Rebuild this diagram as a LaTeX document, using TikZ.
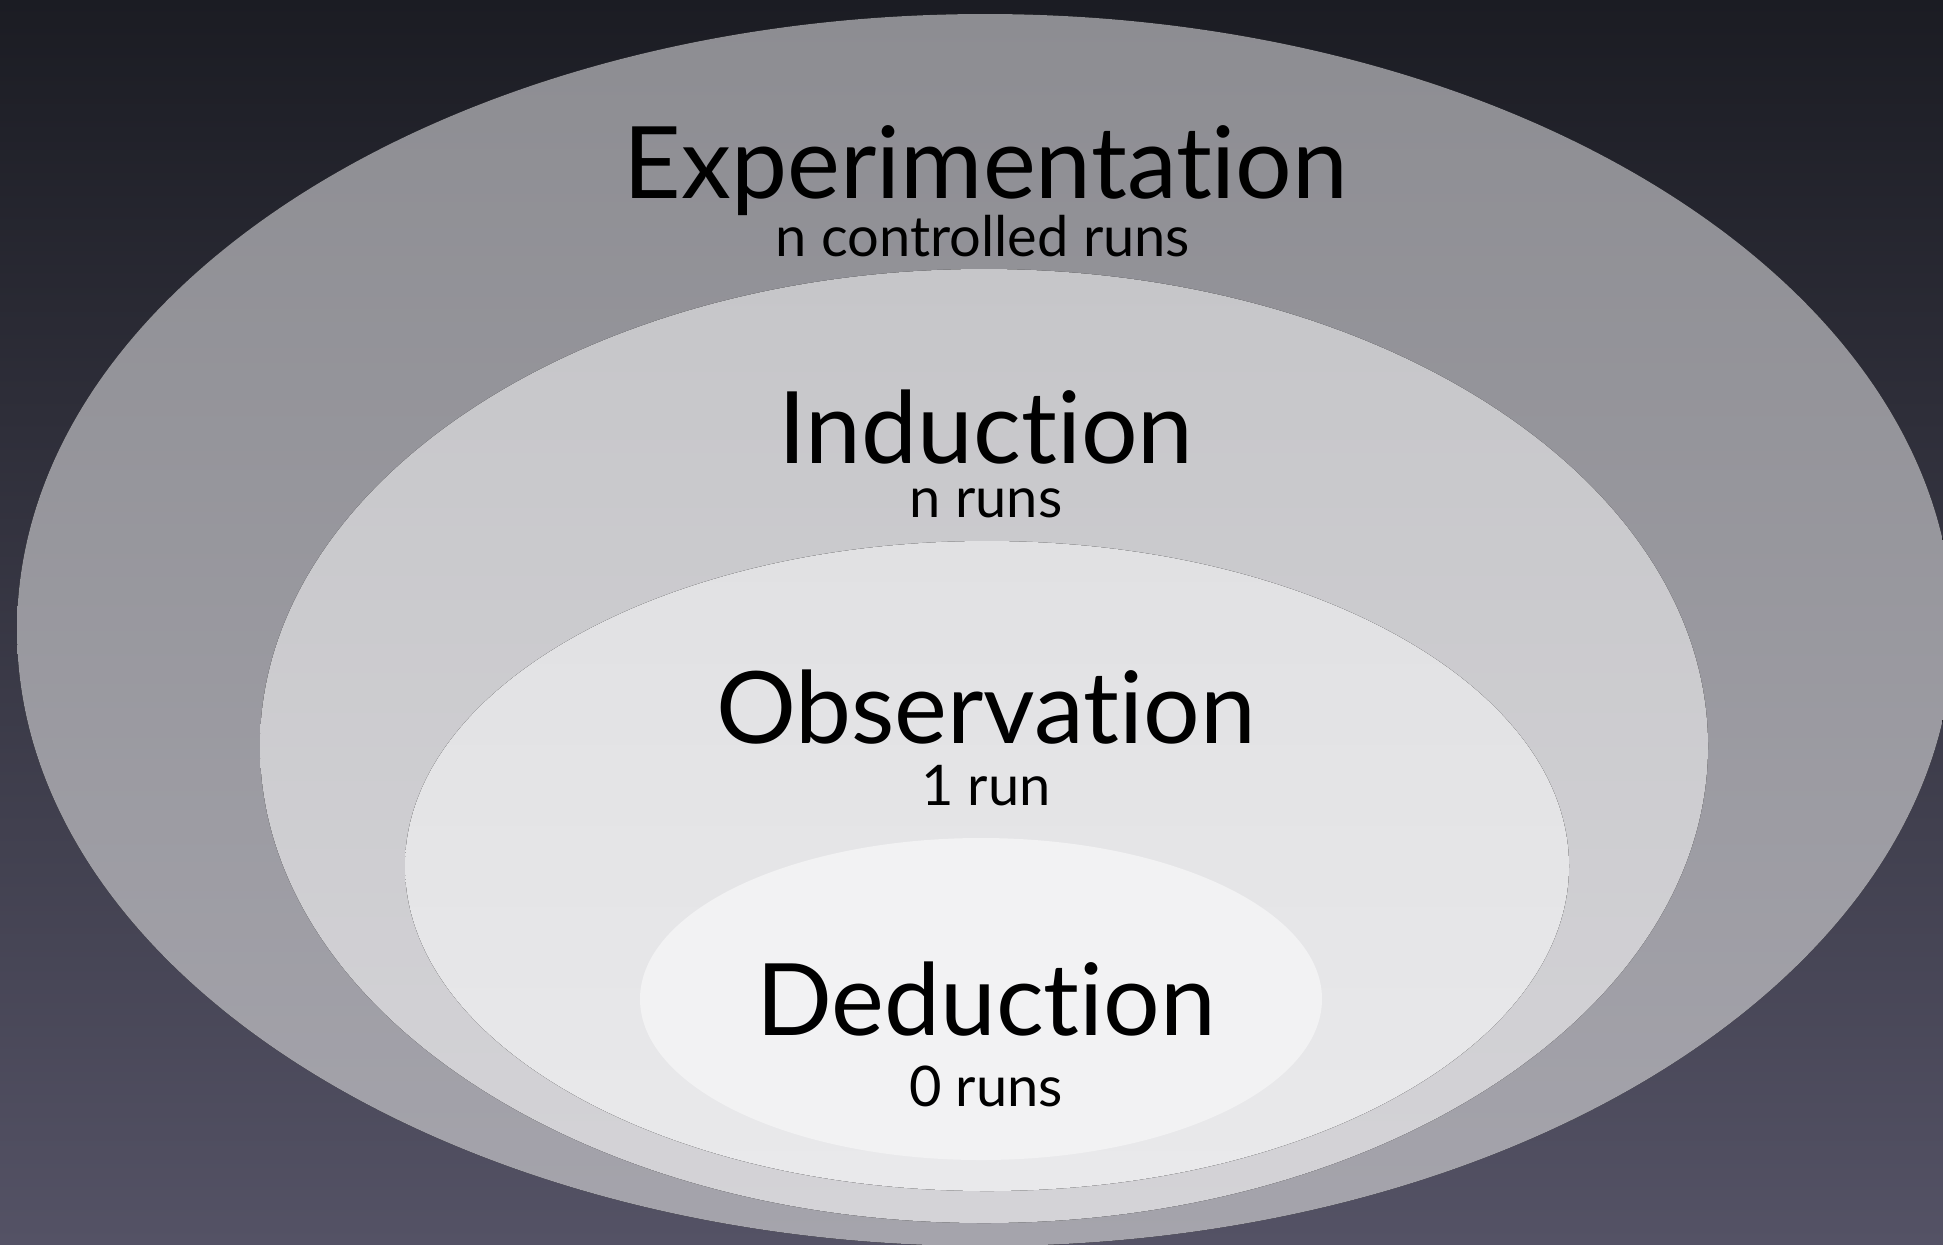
\documentclass[tikz,border=0pt]{standalone}
\usepackage{fontspec}
\setmainfont{Lato}[Ligatures=NoCommon]
\definecolor{bgtop}{RGB}{27,28,35}
\definecolor{bgbot}{RGB}{84,82,101}
\definecolor{expttop}{RGB}{141,141,146}
\definecolor{exptbot}{RGB}{165,164,172}
\definecolor{indtop}{RGB}{198,198,201}
\definecolor{indbot}{RGB}{212,211,215}
\definecolor{obstop}{RGB}{225,225,227}
\definecolor{obsbot}{RGB}{233,233,235}
\definecolor{dedfill}{RGB}{242,242,243}
\begin{document}
\begin{tikzpicture}[x=0.5pt,y=0.5pt,yscale=-1,xscale=1,
    heading/.style={anchor=base,inner sep=0pt,font=\fontsize{50}{58}\selectfont},
    runs/.style={anchor=base,inner sep=0pt,font=\fontsize{28}{34}\selectfont}]
\useasboundingbox (0,0) rectangle (1943,1244);
\fill [top color=bgtop, bottom color=bgbot] (0,0) rectangle (1943,1244);

% nested ellipses, outside in
\fill [top color=expttop, bottom color=exptbot] (985,630) ellipse [x radius=968, y radius=616];
\fill [top color=indtop, bottom color=indbot] (984,746) ellipse [x radius=724, y radius=477];
\fill [top color=obstop, bottom color=obsbot] (987,866) ellipse [x radius=582, y radius=325];
\fill [dedfill] (981,999) ellipse [x radius=341, y radius=161];

\node [heading] (expt) at (986,198) {Experimentation};
\node [runs] (exptruns) at (983,256) {n controlled runs};
\node [heading] (ind) at (986,463) {Induction};
\node [runs] (indruns) at (986,517) {n runs};
\node [heading] (obs) at (986,743) {Observation};
\node [runs] (obsruns) at (986,805) {1 run};
\node [heading] (ded) at (986,1035) {Deduction};
\node [runs] (dedruns) at (986,1106) {0 runs};
\end{tikzpicture}
\end{document}
